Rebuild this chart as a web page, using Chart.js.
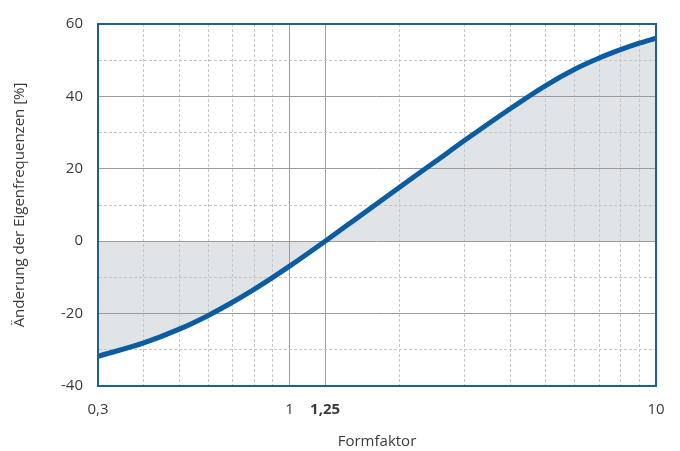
<!DOCTYPE html>
<html>
<head>
<meta charset="utf-8">
<script src="https://cdn.jsdelivr.net/npm/chart.js@4"></script>
<style>
  html, body { margin: 0; padding: 0; background: #fff; }
  #wrap { width: 680px; height: 451px; }
</style>
</head>
<body>
<div id="wrap"><canvas id="chart"></canvas></div>
<script>
// Formfaktor (x, log) and Änderung der Eigenfrequenzen [%] (y)
var formFactor = [0.3, 0.4, 0.5, 0.6, 0.7, 0.8, 0.9, 1, 1.25, 1.5, 2, 2.5, 3, 4, 5, 6, 7, 8, 9, 10];
var change = [-31.8, -28.1, -24.3, -20.5, -16.8, -13.3, -10.0, -6.9, 0, 5.8, 15.0, 22.0, 27.8, 36.6, 43.0, 47.5, 50.6, 52.9, 54.7, 56.1];

var xMinorTicks = [0.4, 0.5, 0.6, 0.7, 0.8, 0.9, 2, 3, 4, 5, 6, 7, 8, 9];
var xMajorTicks = [1, 1.25];
var xLabelTicks = [0.3, 1, 1.25, 10];
var xLabels = {0.3: "0,3", 1: "1", 1.25: "1,25", 10: "10"};
var yMinorTicks = [-30, -10, 10, 30, 50];
var yMajorTicks = [-20, 0, 20, 40];
var yLabelTicks = [-40, -20, 0, 20, 40, 60];

var frameColor = "#1f5f94";
var lineColor = "#0b5ca0";
var fillColor = "#e1e4e7";
var majorGrid = "#9c9c9c";
var minorGrid = "#c6c6c6";
var textColor = "#3a3a3a";
var fontFamily = "'Open Sans', sans-serif";

function setTicks(list){
    return function(scale){
        scale.ticks = list.map(function(v){ return {value: v}; });
    };
}

function gridFor(list){
    return function(ctx){
        if (!ctx.tick) return "transparent";
        return list.indexOf(ctx.tick.value) >= 0 ? "inherit" : "transparent";
    };
}

new Chart(document.querySelector("#chart"), {
    type: "line",
    data: {
        datasets: [{
            data: formFactor.map(function(x, i){ return {x: x, y: change[i]}; }),
            borderColor: lineColor,
            borderWidth: 5,
            backgroundColor: fillColor,
            fill: "origin",
            pointRadius: 0,
            cubicInterpolationMode: "monotone",
            xAxisID: "x",
            yAxisID: "y"
        }]
    },
    options: {
        responsive: true,
        maintainAspectRatio: false,
        animation: false,
        layout: { padding: { top: 22, right: 24, bottom: 0, left: 0 } },
        plugins: {
            legend: { display: false },
            tooltip: { enabled: false },
            filler: { drawTime: "beforeDraw" }
        },
        scales: {
            // bottom axis: labels + dashed minor grid
            x: {
                type: "logarithmic",
                position: "bottom",
                min: 0.3,
                max: 10,
                afterBuildTicks: setTicks(xLabelTicks.concat(xMinorTicks).sort(function(a, b){ return a - b; })),
                afterFit: function(scale){ scale.height = 65; },
                grid: {
                    drawTicks: false,
                    color: function(ctx){
                        return ctx.tick && xMinorTicks.indexOf(ctx.tick.value) >= 0 ? minorGrid : "transparent";
                    },
                    lineWidth: 1
                },
                border: { display: true, color: frameColor, width: 2, dash: [3, 2], z: 2 },
                ticks: {
                    autoSkip: false,
                    maxRotation: 0,
                    padding: 15,
                    color: textColor,
                    font: function(ctx){
                        var bold = ctx.tick && ctx.tick.value === 1.25;
                        return { family: fontFamily, size: 15, weight: bold ? "bold" : "normal" };
                    },
                    callback: function(value){
                        return xLabels[value] !== undefined ? xLabels[value] : "";
                    }
                },
                title: {
                    display: true,
                    text: "Formfaktor",
                    color: textColor,
                    font: { family: fontFamily, size: 15 },
                    padding: { top: 0, bottom: 0 }
                }
            },
            // top axis: frame + solid grid at 1 and 1,25
            xTop: {
                type: "logarithmic",
                position: "top",
                min: 0.3,
                max: 10,
                afterBuildTicks: setTicks(xMajorTicks),
                afterFit: function(scale){ scale.height = 0; },
                grid: { drawTicks: false, color: majorGrid, lineWidth: 1 },
                border: { display: true, color: frameColor, width: 2, z: 2 },
                ticks: { display: false }
            },
            // left axis: labels + dashed minor grid
            y: {
                type: "linear",
                position: "left",
                min: -40,
                max: 60,
                afterBuildTicks: setTicks(yLabelTicks.concat(yMinorTicks).sort(function(a, b){ return a - b; })),
                afterFit: function(scale){ scale.width = 98; },
                grid: {
                    drawTicks: false,
                    color: function(ctx){
                        return ctx.tick && yMinorTicks.indexOf(ctx.tick.value) >= 0 ? minorGrid : "transparent";
                    },
                    lineWidth: 1
                },
                border: { display: true, color: frameColor, width: 2, dash: [3, 2], z: 2 },
                ticks: {
                    autoSkip: false,
                    padding: 15,
                    color: textColor,
                    font: { family: fontFamily, size: 15 },
                    callback: function(value){
                        return yLabelTicks.indexOf(value) >= 0 ? String(value) : "";
                    }
                },
                title: {
                    display: true,
                    text: "Änderung der Eigenfrequenzen [%]",
                    color: textColor,
                    font: { family: fontFamily, size: 15 },
                    padding: { top: 11, bottom: 0 }
                }
            },
            // right axis: frame + solid grid every 20
            yRight: {
                type: "linear",
                position: "right",
                min: -40,
                max: 60,
                afterBuildTicks: setTicks(yMajorTicks),
                afterFit: function(scale){ scale.width = 0; },
                grid: { drawTicks: false, color: majorGrid, lineWidth: 1 },
                border: { display: true, color: frameColor, width: 2, z: 2 },
                ticks: { display: false }
            }
        }
    }
});
</script>
</body>
</html>
